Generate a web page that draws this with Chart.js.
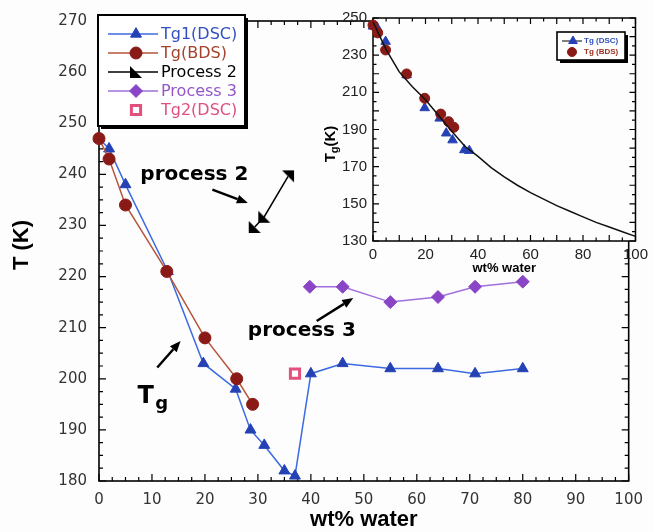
<!DOCTYPE html>
<html><head><meta charset="utf-8">
<script src="https://cdn.jsdelivr.net/npm/chart.js@4/dist/chart.umd.min.js"></script>
<style>
html,body{margin:0;padding:0;background:#fdfdfd;}
#wrap{position:relative;width:653px;height:532px;overflow:hidden;}
#main{position:absolute;left:0;top:0;}
#inset{position:absolute;left:320px;top:0;}
</style></head><body>
<div id="wrap">
<canvas id="main" width="653" height="532" style="width:653px;height:532px"></canvas>
<canvas id="inset" width="333" height="280" style="width:333px;height:280px"></canvas>
</div>
<script>
// ---------- main chart data ----------
const mainXTicks = [0,10,20,30,40,50,60,70,80,90,100];
const mainYTicks = [180,190,200,210,220,230,240,250,260,270];
const tg1DscX = [0, 1.9, 5, 13, 19.7, 25.8, 28.6, 31.2, 35, 37, 40, 46, 55, 64, 71, 80];
const tg1DscY = [247, 245, 238, 221, 203, 198, 190, 187, 182, 181, 201, 203, 202, 202, 201, 202];
const tgBdsX = [0, 1.9, 5, 12.8, 20, 26, 29];
const tgBdsY = [247, 243, 234, 221, 208, 200, 195];
const process2X = [29.4, 31.2, 35.7];
const process2Y = [229.7, 231.7, 239.6];
const process3X = [39.8, 46, 55, 64, 71, 80];
const process3Y = [218, 218, 215, 216, 218, 219];
const tg2DscX = [37];
const tg2DscY = [201];
const legendLabels = ['Tg1(DSC)', 'Tg(BDS)', 'Process 2', 'Process 3', 'Tg2(DSC)'];

// ---------- inset data ----------
const insetXTicks = [0,20,40,60,80,100];
const insetYTicks = [130,150,170,190,210,230,250];
const insetDscX = [0, 1.5, 4.8, 12.8, 19.7, 25.4, 27.9, 30.3, 34.8, 36.7];
const insetDscY = [245.5, 245, 237.3, 219.3, 201.6, 196, 188, 184.3, 179, 178.6];
const insetBdsX = [0, 1.8, 4.8, 12.8, 19.7, 25.8, 28.8, 30.8];
const insetBdsY = [246.2, 242, 232.8, 219.9, 206.8, 198.3, 194.2, 191.2];
const fitX = [0,5,10,15,20,25,30,35,40,45,50,55,60,65,70,75,80,85,90,95,100];
const fitY = [248,233,221,213,206,197.5,189,181,175.5,169.5,164.5,160,156,152.5,149,146,143,140,137.5,135,132.5];
const insetLegendLabels = ['Tg (DSC)', 'Tg (BDS)'];

const pts = (xs, ys) => xs.map((x, i) => ({x: x, y: ys[i]}));
const BG = '#fdfdfd';

// right-triangle marker image (◣)
const triImg = document.createElement('canvas');
triImg.width = 14; triImg.height = 14;
(function(){const c = triImg.getContext('2d'); c.fillStyle = '#000'; c.beginPath(); c.moveTo(1,1); c.lineTo(1,13); c.lineTo(13,13); c.closePath(); c.fill();})();

const blueLine = '#3c6ae0', blueFill = '#2542b5';
const redLine = '#b5553a', redFill = '#8a1a16';
const purpLine = '#a070dc', purpFill = '#8a45c6';
const pink = '#e2507c';

function drawMarker(ctx, style, x, y, fill, stroke, bw, r, rot) {
  ctx.save();
  ctx.fillStyle = fill; ctx.strokeStyle = stroke; ctx.lineWidth = bw;
  if (Chart.helpers && Chart.helpers.drawPoint) {
    Chart.helpers.drawPoint(ctx, {pointStyle: style, rotation: rot || 0, radius: r, borderWidth: bw}, x, y);
  } else {
    ctx.beginPath(); ctx.arc(x, y, r, 0, Math.PI*2); ctx.fill();
  }
  ctx.restore();
}

function drawArrow(ctx, x1, y1, x2, y2, lw, hl, hw) {
  const a = Math.atan2(y2 - y1, x2 - x1);
  const bx = x2 - hl*Math.cos(a), by = y2 - hl*Math.sin(a);
  ctx.save(); ctx.strokeStyle = '#000'; ctx.fillStyle = '#000'; ctx.lineWidth = lw;
  ctx.beginPath(); ctx.moveTo(x1, y1); ctx.lineTo(bx, by); ctx.stroke();
  ctx.beginPath(); ctx.moveTo(x2, y2);
  ctx.lineTo(bx + hw/2*Math.sin(a), by - hw/2*Math.cos(a));
  ctx.lineTo(bx - hw/2*Math.sin(a), by + hw/2*Math.cos(a));
  ctx.closePath(); ctx.fill(); ctx.restore();
}

function drawFrameTicks(chart, step, majorEvery, lMaj, lMin, lw) {
  const ctx = chart.ctx, a = chart.chartArea, sx = chart.scales.x, sy = chart.scales.y;
  ctx.save(); ctx.strokeStyle = '#000'; ctx.lineWidth = lw;
  ctx.strokeRect(a.left, a.top, a.right - a.left, a.bottom - a.top);
  ctx.lineWidth = 1.2; ctx.beginPath();
  const eq = (v, m) => Math.abs(v/m - Math.round(v/m)) < 1e-6;
  for (let v = sx.min; v <= sx.max + 1e-9; v += step.x) {
    const p = sx.getPixelForValue(v), L = eq(v, majorEvery.x) ? lMaj : lMin;
    ctx.moveTo(p, a.bottom); ctx.lineTo(p, a.bottom - L);
    ctx.moveTo(p, a.top); ctx.lineTo(p, a.top + L);
  }
  for (let v = sy.min; v <= sy.max + 1e-9; v += step.y) {
    const p = sy.getPixelForValue(v), L = eq(v, majorEvery.y) ? lMaj : lMin;
    ctx.moveTo(a.left, p); ctx.lineTo(a.left + L, p);
    ctx.moveTo(a.right, p); ctx.lineTo(a.right - L, p);
  }
  ctx.stroke(); ctx.restore();
}

const mainDecor = {
  id: 'mainDecor',
  beforeDatasetsDraw(chart) {
    drawFrameTicks(chart, {x: 2.5, y: 2.5}, {x: 10, y: 10}, 7, 4, 1.6);
  },
  afterDatasetsDraw(chart) {
    const ctx = chart.ctx, sx = chart.scales.x, sy = chart.scales.y;
    const X = v => sx.getPixelForValue(v), Y = v => sy.getPixelForValue(v);
    ctx.save();
    ctx.fillStyle = '#000';
    // annotations
    ctx.font = 'bold 20px "DejaVu Sans"'; ctx.textAlign = 'center'; ctx.textBaseline = 'middle';
    ctx.fillText('process 2', X(18), Y(239.9));
    ctx.fillText('process 3', X(38.3), Y(209.3));
    ctx.textAlign = 'left'; ctx.textBaseline = 'alphabetic';
    ctx.font = 'bold 24px "DejaVu Sans"';
    ctx.fillText('T', X(7.25), Y(195.35));
    ctx.font = 'bold 18px "DejaVu Sans"';
    ctx.fillText('g', X(10.6), Y(194.0));
    drawArrow(ctx, X(21.4), Y(237.0), X(28.1), Y(234.4), 2.5, 11, 9);
    drawArrow(ctx, X(11.0), Y(202.2), X(15.4), Y(207.4), 2.5, 11, 9);
    drawArrow(ctx, X(41.1), Y(211.3), X(48.0), Y(215.8), 2.5, 11, 9);
    // axis titles
    ctx.font = 'bold 22px "Liberation Sans"'; ctx.textAlign = 'center'; ctx.textBaseline = 'middle';
    ctx.fillText('wt% water', (chart.chartArea.left + chart.chartArea.right)/2, 520);
    ctx.save(); ctx.translate(22, 245); ctx.rotate(-Math.PI/2);
    ctx.fillText('T (K)', 0, 0); ctx.restore();
    // legend
    const lx = 98, ly = 15, lw = 147, lh = 111;
    ctx.fillStyle = '#000'; ctx.fillRect(lx + 3, ly + 3, lw, lh);
    ctx.fillStyle = '#fff'; ctx.fillRect(lx, ly, lw, lh);
    ctx.strokeStyle = '#000'; ctx.lineWidth = 2; ctx.strokeRect(lx, ly, lw, lh);
    const rows = [34, 53, 72, 91, 110];
    const ds = chart.data.datasets;
    ctx.font = '16px "DejaVu Sans"'; ctx.textAlign = 'left'; ctx.textBaseline = 'middle';
    const txtCol = ['#3350c2', '#a3432c', '#000', '#9456c8', '#e0507e'];
    ds.forEach((d, i) => {
      const y = rows[i];
      if (d.showLine) {
        ctx.strokeStyle = d.borderColor; ctx.lineWidth = 1.6;
        ctx.beginPath(); ctx.moveTo(108, y); ctx.lineTo(158, y); ctx.stroke();
      }
      const rot = Array.isArray(d.pointRotation) ? 0 : (d.pointRotation || 0);
      drawMarker(ctx, d.pointStyle, 136, y, d.pointBackgroundColor, d.pointBorderColor, d.pointBorderWidth, d.pointRadius, rot);
      ctx.fillStyle = txtCol[i];
      ctx.fillText(legendLabels[i], 161, y + 1);
    });
    ctx.restore();
  }
};

const tickFont = {family: 'DejaVu Sans', size: 15};
new Chart(document.getElementById('main'), {
  type: 'scatter',
  data: {datasets: [
    {label: legendLabels[0], data: pts(tg1DscX, tg1DscY), showLine: true, borderColor: blueLine, borderWidth: 1.5, order: 2,
     pointStyle: 'triangle', pointRadius: 6.3, pointBackgroundColor: blueFill, pointBorderColor: blueFill, pointBorderWidth: 1, clip: false},
    {label: legendLabels[1], data: pts(tgBdsX, tgBdsY), showLine: true, borderColor: redLine, borderWidth: 1.5, order: 1,
     pointStyle: 'circle', pointRadius: 6, pointBackgroundColor: redFill, pointBorderColor: redFill, pointBorderWidth: 1, clip: false},
    {label: legendLabels[2], data: pts(process2X, process2Y), showLine: true, borderColor: '#000', borderWidth: 1.5, order: 3,
     pointStyle: triImg, pointRotation: [0, 0, 180], pointRadius: 6, pointBackgroundColor: '#000', pointBorderColor: '#000', pointBorderWidth: 0, clip: false},
    {label: legendLabels[3], data: pts(process3X, process3Y), showLine: true, borderColor: purpLine, borderWidth: 1.5, order: 4,
     pointStyle: 'rectRot', pointRadius: 6.5, pointBackgroundColor: purpFill, pointBorderColor: purpFill, pointBorderWidth: 1, clip: false},
    {label: legendLabels[4], data: pts(tg2DscX, tg2DscY), showLine: false, order: 5,
     pointStyle: 'rect', pointRadius: 6.5, pointBackgroundColor: '#fff', pointBorderColor: pink, pointBorderWidth: 3, clip: false}
  ]},
  options: {
    responsive: false, animation: false, events: [],
    plugins: {legend: {display: false}, tooltip: {enabled: false}},
    layout: {padding: {left: 0, right: 16, top: 18, bottom: 0}},
    scales: {
      x: {type: 'linear', min: 0, max: 100,
          afterBuildTicks(s) { s.ticks = mainXTicks.map(v => ({value: v})); },
          afterFit(s) { s.height = 51; },
          grid: {display: false, drawTicks: false}, border: {display: false},
          ticks: {font: tickFont, color: '#333', padding: 10, maxRotation: 0, autoSkip: false}},
      y: {type: 'linear', min: 180, max: 270,
          afterBuildTicks(s) { s.ticks = mainYTicks.map(v => ({value: v})); },
          afterFit(s) { s.width = 99; },
          grid: {display: false, drawTicks: false}, border: {display: false},
          ticks: {font: tickFont, color: '#333', padding: 12, autoSkip: false}}
    }
  },
  plugins: [mainDecor]
});

// ---------------- inset ----------------
const insetDecor = {
  id: 'insetDecor',
  beforeDatasetsDraw(chart) {
    const ctx = chart.ctx, a = chart.chartArea;
    ctx.save(); ctx.fillStyle = BG; ctx.fillRect(a.left, a.top, a.right - a.left, a.bottom - a.top); ctx.restore();
    drawFrameTicks(chart, {x: 5, y: 5}, {x: 10, y: 10}, 6, 3.5, 1.5);
  },
  afterDatasetsDraw(chart) {
    const ctx = chart.ctx;
    ctx.save(); ctx.fillStyle = '#000';
    ctx.font = 'bold 13px "Liberation Sans"'; ctx.textAlign = 'center'; ctx.textBaseline = 'middle';
    ctx.fillText('wt% water', (chart.chartArea.left + chart.chartArea.right)/2, 268);
    ctx.save(); ctx.translate(10, 144); ctx.rotate(-Math.PI/2);
    ctx.textAlign = 'left'; ctx.textBaseline = 'alphabetic';
    ctx.font = 'bold 15px "Liberation Sans"';
    const wT = ctx.measureText('T').width;
    ctx.font = 'bold 11px "Liberation Sans"';
    const wg = ctx.measureText('g').width;
    ctx.font = 'bold 15px "Liberation Sans"';
    const wK = ctx.measureText('(K)').width;
    const tot = wT + wg + wK; let x0 = -tot/2;
    ctx.fillText('T', x0, 5); x0 += wT;
    ctx.font = 'bold 11px "Liberation Sans"'; ctx.fillText('g', x0, 8); x0 += wg;
    ctx.font = 'bold 15px "Liberation Sans"'; ctx.fillText('(K)', x0, 5);
    ctx.restore();
    // legend
    const lx = 237, ly = 32, lw = 68, lh = 28;
    ctx.fillStyle = '#000'; ctx.fillRect(lx + 3, ly + 3, lw, lh);
    ctx.fillStyle = '#fff'; ctx.fillRect(lx, ly, lw, lh);
    ctx.strokeStyle = '#000'; ctx.lineWidth = 1.6; ctx.strokeRect(lx, ly, lw, lh);
    ctx.strokeStyle = '#000'; ctx.lineWidth = 1; ctx.beginPath(); ctx.moveTo(242, 41); ctx.lineTo(262, 41); ctx.stroke();
    drawMarker(ctx, 'triangle', 253, 41, blueFill, blueFill, 1, 5);
    drawMarker(ctx, 'circle', 252, 52, redFill, redFill, 1, 4.5);
    ctx.font = 'bold 8px "Liberation Sans"'; ctx.textAlign = 'left'; ctx.textBaseline = 'middle';
    ctx.fillStyle = '#2d4fc0'; ctx.fillText(insetLegendLabels[0], 264, 41);
    ctx.fillStyle = '#a03020'; ctx.fillText(insetLegendLabels[1], 264, 52);
    ctx.restore();
  }
};

const insetFont = {family: 'Liberation Sans', size: 15};
new Chart(document.getElementById('inset'), {
  type: 'scatter',
  data: {datasets: [
    {label: 'fit', data: pts(fitX, fitY), showLine: true, borderColor: '#111', borderWidth: 1.5, pointRadius: 0, clip: false},
    {label: insetLegendLabels[1], data: pts(insetBdsX, insetBdsY), pointStyle: 'circle', pointRadius: 5,
     pointBackgroundColor: redFill, pointBorderColor: redFill, pointBorderWidth: 1, clip: false},
    {label: insetLegendLabels[0], data: pts(insetDscX, insetDscY), pointStyle: 'triangle', pointRadius: 5.5,
     pointBackgroundColor: blueFill, pointBorderColor: blueFill, pointBorderWidth: 1, clip: false}
  ]},
  options: {
    responsive: false, animation: false, events: [],
    plugins: {legend: {display: false}, tooltip: {enabled: false}},
    layout: {padding: {left: 0, right: 16, top: 18, bottom: 0}},
    scales: {
      x: {type: 'linear', min: 0, max: 100,
          afterBuildTicks(s) { s.ticks = insetXTicks.map(v => ({value: v})); },
          afterFit(s) { s.height = 39; },
          grid: {display: false, drawTicks: false}, border: {display: false},
          ticks: {font: insetFont, color: '#222', padding: 5, maxRotation: 0, autoSkip: false}},
      y: {type: 'linear', min: 130, max: 250,
          afterBuildTicks(s) { s.ticks = insetYTicks.map(v => ({value: v})); },
          afterFit(s) { s.width = 53; },
          grid: {display: false, drawTicks: false}, border: {display: false},
          ticks: {font: insetFont, color: '#222', padding: 6, autoSkip: false}}
    }
  },
  plugins: [insetDecor]
});
</script>
</body></html>
